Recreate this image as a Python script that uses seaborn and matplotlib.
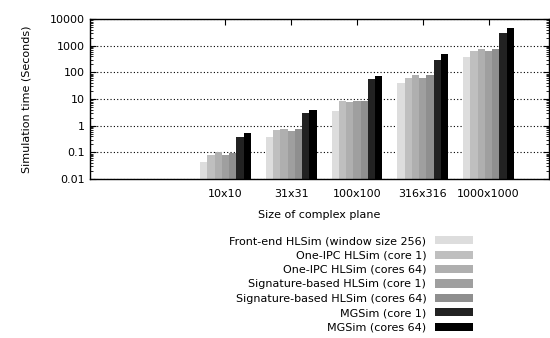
import matplotlib
matplotlib.use("Agg")
import matplotlib.pyplot as plt
import matplotlib.ticker as mticker
import seaborn as sns
import pandas as pd

categories = ["10x10", "31x31", "100x100", "316x316", "1000x1000"]
series = [
    "Front-end HLSim (window size 256)",
    "One-IPC HLSim (core 1)",
    "One-IPC HLSim (cores 64)",
    "Signature-based HLSim (core 1)",
    "Signature-based HLSim (cores 64)",
    "MGSim (core 1)",
    "MGSim (cores 64)",
]
front_end = [0.043, 0.38, 3.55, 40, 365]
one_ipc_1 = [0.079, 0.69, 8.4, 61, 630]
one_ipc_64 = [0.103, 0.75, 8.0, 79, 750]
sig_1 = [0.079, 0.63, 8.4, 61, 630]
sig_64 = [0.094, 0.75, 8.4, 79, 750]
mgsim_1 = [0.38, 3.0, 56, 290, 2990]
mgsim_64 = [0.53, 3.9, 73, 490, 4600]
colors = ["#dddddd", "#bfbfbf", "#afafaf", "#9f9f9f", "#8f8f8f", "#222222", "#000000"]
ytick_values = [0.01, 0.1, 1, 10, 100, 1000, 10000]
ytick_labels = ["0.01", "0.1", "1", "10", "100", "1000", "10000"]

all_values = [front_end, one_ipc_1, one_ipc_64, sig_1, sig_64, mgsim_1, mgsim_64]
rows = []
for s, vals in zip(series, all_values):
    for c, v in zip(categories, vals):
        rows.append({"size": c, "series": s, "time": v})
df = pd.DataFrame(rows)

sns.set_style("white")
plt.rcParams["font.family"] = ["DejaVu Sans"]
plt.rcParams["text.color"] = "black"
plt.rcParams["axes.labelcolor"] = "black"
plt.rcParams["xtick.color"] = "black"
plt.rcParams["ytick.color"] = "black"

fig = plt.figure(figsize=(5.5, 3.38), dpi=100)
ax = fig.add_axes([90 / 550, 1 - 179 / 338, 459 / 550, 160 / 338])
ax.set_yscale("log")

sns.barplot(data=df, x="size", y="time", hue="series", order=categories,
            hue_order=series, palette=colors, width=0.77, linewidth=0,
            saturation=1, ax=ax, errorbar=None)

ax.set_ylim(0.01, 10000)
ax.set_xlim(-2.06, 4.92)
ax.yaxis.set_major_locator(mticker.FixedLocator(ytick_values))
ax.yaxis.set_major_formatter(mticker.FixedFormatter(ytick_labels))
ax.yaxis.set_minor_locator(mticker.LogLocator(base=10, subs=range(2, 10), numticks=20))
ax.yaxis.set_minor_formatter(mticker.NullFormatter())
ax.tick_params(axis="y", which="major", direction="in", length=4, width=0.8,
               left=True, right=True, labelsize=8, pad=4)
ax.tick_params(axis="y", which="minor", direction="in", length=2, width=0.6,
               left=True, right=True)
ax.tick_params(axis="x", which="major", direction="in", length=4, width=0.8,
               top=True, bottom=False, labelsize=8, pad=7)
ax.grid(True, axis="y", which="major", linestyle=(0, (1, 2)), color="black",
        linewidth=0.8)
ax.set_axisbelow(True)
for sp in ax.spines.values():
    sp.set_linewidth(1.0)
    sp.set_color("black")

ax.set_xlabel("Size of complex plane", fontsize=8, labelpad=8)
ax.set_ylabel("Simulation time (Seconds)", fontsize=8, labelpad=13)

handles, labels = ax.get_legend_handles_labels()
if ax.get_legend() is not None:
    ax.get_legend().remove()
fig.legend(handles, labels, loc="upper right",
           bbox_to_anchor=(473 / 550, 1 - 236 / 338), frameon=False,
           fontsize=8, markerfirst=False, handlelength=3.4, handleheight=0.75,
           handletextpad=0.8, labelspacing=0.4, borderpad=0, borderaxespad=0)

fig.savefig("out.png", dpi=100)
